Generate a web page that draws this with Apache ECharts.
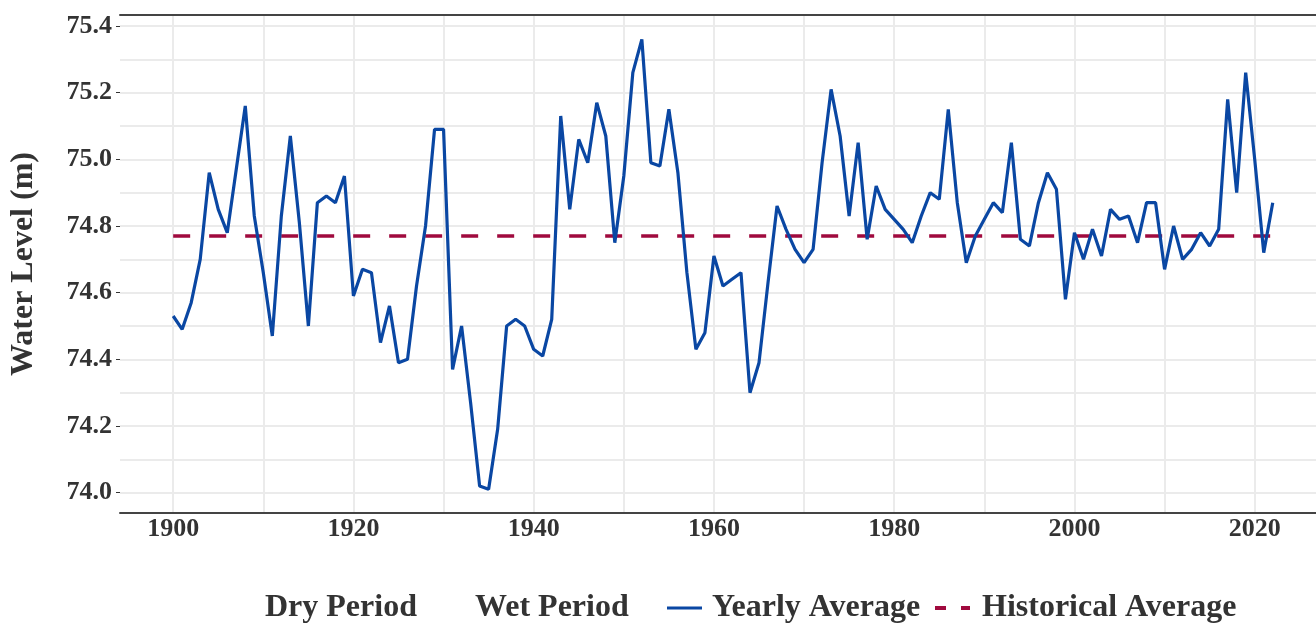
<!DOCTYPE html>
<html>
<head>
<meta charset="utf-8">
<script src="https://cdn.jsdelivr.net/npm/echarts@6/dist/echarts.min.js"></script>
<style>
    html, body { margin: 0; padding: 0; background: #fff; }
    #chart { width: 1316px; height: 625px; }
</style>
</head>
<body>
<div id="chart"></div>
<script>
    // yearly average water level (m)
    var years = [
        1900, 1901, 1902, 1903, 1904, 1905, 1906, 1907, 1908, 1909,
        1910, 1911, 1912, 1913, 1914, 1915, 1916, 1917, 1918, 1919,
        1920, 1921, 1922, 1923, 1924, 1925, 1926, 1927, 1928, 1929,
        1930, 1931, 1932, 1933, 1934, 1935, 1936, 1937, 1938, 1939,
        1940, 1941, 1942, 1943, 1944, 1945, 1946, 1947, 1948, 1949,
        1950, 1951, 1952, 1953, 1954, 1955, 1956, 1957, 1958, 1959,
        1960, 1961, 1962, 1963, 1964, 1965, 1966, 1967, 1968, 1969,
        1970, 1971, 1972, 1973, 1974, 1975, 1976, 1977, 1978, 1979,
        1980, 1981, 1982, 1983, 1984, 1985, 1986, 1987, 1988, 1989,
        1990, 1991, 1992, 1993, 1994, 1995, 1996, 1997, 1998, 1999,
        2000, 2001, 2002, 2003, 2004, 2005, 2006, 2007, 2008, 2009,
        2010, 2011, 2012, 2013, 2014, 2015, 2016, 2017, 2018, 2019,
        2020, 2021, 2022
    ];
    var yearlyLevel = [
        74.53, 74.49, 74.57, 74.70, 74.96, 74.85, 74.78, 74.97, 75.16, 74.83,
        74.66, 74.47, 74.83, 75.07, 74.81, 74.50, 74.87, 74.89, 74.87, 74.95,
        74.59, 74.67, 74.66, 74.45, 74.56, 74.39, 74.40, 74.62, 74.80, 75.09,
        75.09, 74.37, 74.50, 74.27, 74.02, 74.01, 74.19, 74.50, 74.52, 74.50,
        74.43, 74.41, 74.52, 75.13, 74.85, 75.06, 74.99, 75.17, 75.07, 74.75,
        74.95, 75.26, 75.36, 74.99, 74.98, 75.15, 74.96, 74.66, 74.43, 74.48,
        74.71, 74.62, 74.64, 74.66, 74.30, 74.39, 74.63, 74.86, 74.79, 74.73,
        74.69, 74.73, 74.99, 75.21, 75.07, 74.83, 75.05, 74.76, 74.92, 74.85,
        74.82, 74.79, 74.75, 74.83, 74.90, 74.88, 75.15, 74.87, 74.69, 74.77,
        74.82, 74.87, 74.84, 75.05, 74.76, 74.74, 74.87, 74.96, 74.91, 74.58,
        74.78, 74.70, 74.79, 74.71, 74.85, 74.82, 74.83, 74.75, 74.87, 74.87,
        74.67, 74.80, 74.70, 74.73, 74.78, 74.74, 74.79, 75.18, 74.90, 75.26,
        75.00, 74.72, 74.87
    ];
    var historicalAverage = 74.77;

    var xTickLabels = [1900, 1920, 1940, 1960, 1980, 2000, 2020];
    var xGridLines = [1900, 1910, 1920, 1930, 1940, 1950, 1960, 1970, 1980, 1990, 2000, 2010, 2020];
    var yTickLabels = [74.0, 74.2, 74.4, 74.6, 74.8, 75.0, 75.2, 75.4];
    var yGridLines = [74.0, 74.1, 74.2, 74.3, 74.4, 74.5, 74.6, 74.7, 74.8, 74.9, 75.0, 75.1, 75.2, 75.3, 75.4];

    var serif = '"Liberation Serif", "Times New Roman", serif';
    var textColor = '#333';
    var blue = '#0a47a3';
    var red = '#a00a3e';

    var yearlySeries = years.map(function (y, i) { return [y, yearlyLevel[i]]; });
    var histSeries = [[years[0], historicalAverage], [years[years.length - 1], historicalAverage]];

    var legendText = { fontFamily: serif, fontWeight: 'bold', fontSize: 32, color: textColor, lineHeight: 34 };

    var option = {
        animation: false,
        backgroundColor: '#fff',
        grid: { left: 118, right: 0, top: 15, bottom: 112 },
        legend: [
            {
                left: 225, top: 591, padding: 0, itemWidth: 35, itemHeight: 3,
                data: [{ name: 'Dry Period', icon: 'rect', itemStyle: { color: 'rgba(0,0,0,0)' } }],
                textStyle: legendText, selectedMode: false
            },
            {
                left: 435, top: 591, padding: 0, itemWidth: 35, itemHeight: 3,
                data: [{ name: 'Wet Period', icon: 'rect', itemStyle: { color: 'rgba(0,0,0,0)' } }],
                textStyle: legendText, selectedMode: false
            },
            {
                left: 667, top: 591, padding: 0, itemWidth: 35, itemHeight: 3,
                data: [{ name: 'Yearly Average', icon: 'rect' }],
                textStyle: Object.assign({ padding: [0, 0, 0, 5] }, legendText), selectedMode: false
            },
            {
                left: 935, top: 591, padding: 0, itemWidth: 35, itemHeight: 4,
                data: [{ name: 'Historical Average', icon: 'path://M0,0H11V4H0Z M26,0H35V4H26Z' }],
                textStyle: Object.assign({ padding: [0, 0, 0, 7] }, legendText), selectedMode: false
            }
        ],
        xAxis: [
            {
                type: 'value', min: 1894.1, max: 2026.8, position: 'bottom',
                axisLine: { show: true, lineStyle: { color: '#444', width: 2 } },
                axisTick: { show: false, customValues: xGridLines },
                axisLabel: {
                    customValues: xTickLabels, margin: 3,
                    formatter: function (v) { return String(v); },
                    fontFamily: serif, fontWeight: 'bold', fontSize: 26, color: textColor
                },
                splitLine: { show: true, lineStyle: { color: '#ebebeb', width: 2 } }
            },
            {
                type: 'value', min: 1894.1, max: 2026.8, position: 'top',
                axisLine: { show: true, lineStyle: { color: '#444', width: 2 } },
                axisTick: { show: false }, axisLabel: { show: false }, splitLine: { show: false }
            }
        ],
        yAxis: [
            {
                type: 'value', min: 73.939, max: 75.433,
                axisLine: { show: false },
                axisTick: { show: false, customValues: yGridLines },
                axisLabel: { show: false },
                splitLine: { show: true, lineStyle: { color: '#ebebeb', width: 2 } }
            },
            {
                type: 'value', min: 73.939, max: 75.433, position: 'left',
                axisLine: { show: false },
                axisTick: { show: true, customValues: yTickLabels, length: 4, lineStyle: { color: '#333', width: 1 } },
                axisLabel: {
                    customValues: yTickLabels, margin: 8,
                    formatter: function (v) { return v.toFixed(1); },
                    fontFamily: serif, fontWeight: 'bold', fontSize: 26, color: textColor
                },
                splitLine: { show: false },
                name: 'Water Level (m)', nameLocation: 'middle', nameGap: 80, nameRotate: 90,
                nameTextStyle: { fontFamily: serif, fontWeight: 'bold', fontSize: 32, color: textColor }
            }
        ],
        series: [
            { name: 'Dry Period', type: 'line', data: [] },
            { name: 'Wet Period', type: 'line', data: [] },
            {
                name: 'Historical Average', type: 'line', data: histSeries,
                showSymbol: false, color: red, z: 2,
                lineStyle: { color: red, width: 3.5, type: [17, 19] }
            },
            {
                name: 'Yearly Average', type: 'line', data: yearlySeries,
                showSymbol: false, color: blue, z: 3,
                lineStyle: { color: blue, width: 3.2 }
            }
        ]
    };

    var chart = echarts.init(document.getElementById('chart'));
    chart.setOption(option);
</script>
</body>
</html>
